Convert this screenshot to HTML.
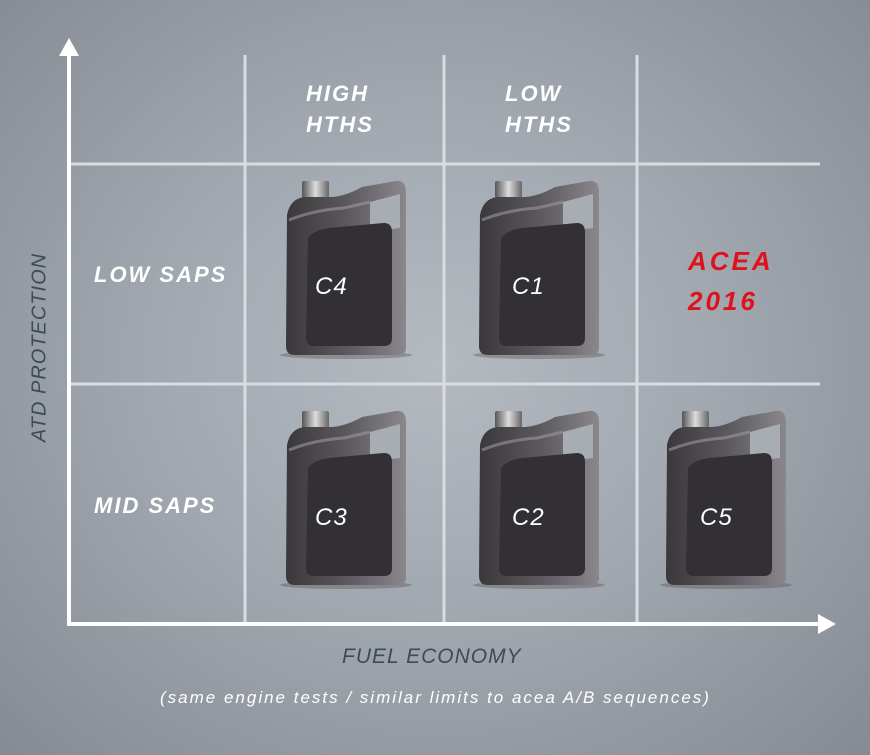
<!DOCTYPE html>
<html><head><style>
html,body{margin:0;padding:0}
body{width:870px;height:755px;overflow:hidden;position:relative;font-family:"Liberation Sans",sans-serif;
background:radial-gradient(ellipse at 50% 48%,#b4bac0 0%,#a2a8b0 45%,#858a93 100%);}
.t{position:absolute;color:#fff;font-weight:bold;font-style:italic;font-size:22px;letter-spacing:2px;line-height:31px}
.jl{position:absolute;color:#fff;font-style:italic;font-size:24px;letter-spacing:1px}
</style></head><body>
<svg width="870" height="755" style="position:absolute;left:0;top:0">
<defs>
<linearGradient id="bd" x1="0" x2="1" y1="0" y2="0"><stop offset="0" stop-color="#3a383b"/><stop offset=".5" stop-color="#5a585c"/><stop offset="1" stop-color="#8a888c"/></linearGradient>
<linearGradient id="cp" x1="0" x2="1"><stop offset="0" stop-color="#555"/><stop offset=".5" stop-color="#ddd"/><stop offset="1" stop-color="#666"/></linearGradient>
<g id="jug">
<ellipse cx="62" cy="175" rx="66" ry="4" fill="#555" opacity=".4"/>
<rect x="18" y="1" width="27" height="17" rx="2" fill="url(#cp)"/>
<path d="M3,35 Q6,19 20,17 L48,17 Q62,16 78,7 L112,1 Q122,0 122,12 L122,168 Q122,175 113,175 L11,175 Q2,175 2,166 Z" fill="url(#bd)"/>
<path d="M86,22 L116,14 L116,48 L86,52 Z" fill="#a7adb3"/>
<path d="M24,58 Q30,50 45,48 L100,43 Q108,43 108,52 L108,158 Q108,166 100,166 L30,166 Q22,166 22,158 Z" fill="#323034"/>
<path d="M5,40 Q30,30 60,28 L86,22" stroke="#9a989c" stroke-width="3" fill="none" opacity=".6"/>
</g>
</defs>
<g stroke="#d9dde1" stroke-width="3">
<line x1="245" y1="55" x2="245" y2="622"/>
<line x1="444" y1="55" x2="444" y2="622"/>
<line x1="637" y1="55" x2="637" y2="622"/>
<line x1="69" y1="164" x2="820" y2="164"/>
<line x1="69" y1="384" x2="820" y2="384"/>
</g>
<g stroke="#fff" stroke-width="4" fill="#fff">
<line x1="69" y1="52" x2="69" y2="624"/>
<line x1="67" y1="624" x2="822" y2="624"/>
</g>
<polygon points="69,38 59,56 79,56" fill="#fff"/>
<polygon points="836,624 818,614 818,634" fill="#fff"/>
<use href="#jug" x="284" y="180"/>
<use href="#jug" x="477" y="180"/>
<use href="#jug" x="284" y="410"/>
<use href="#jug" x="477" y="410"/>
<use href="#jug" x="664" y="410"/>
</svg>
<div class="t" style="left:306px;top:78px">HIGH<br>HTHS</div>
<div class="t" style="left:505px;top:78px">LOW<br>HTHS</div>
<div class="t" style="left:94px;top:259px">LOW SAPS</div>
<div class="t" style="left:94px;top:490px">MID SAPS</div>
<div class="t" style="left:688px;top:241px;color:#e0111b;font-size:26px;line-height:40px;letter-spacing:3px">ACEA<br>2016</div>
<div class="jl" style="left:315px;top:273px">C4</div>
<div class="jl" style="left:512px;top:273px">C1</div>
<div class="jl" style="left:315px;top:504px">C3</div>
<div class="jl" style="left:512px;top:504px">C2</div>
<div class="jl" style="left:700px;top:504px">C5</div>
<div style="position:absolute;left:342px;top:645px;color:#3d4b57;font-style:italic;font-size:21px;letter-spacing:1px">FUEL ECONOMY</div>
<div style="position:absolute;left:160px;top:688px;color:#fff;font-style:italic;font-size:17px;letter-spacing:2px">(same engine tests / similar limits to acea A/B sequences)</div>
<div style="position:absolute;left:-55px;top:336px;width:190px;text-align:center;transform:rotate(-90deg);color:#3d4b57;font-style:italic;font-size:20px;letter-spacing:1px">ATD PROTECTION</div>
</body></html>
